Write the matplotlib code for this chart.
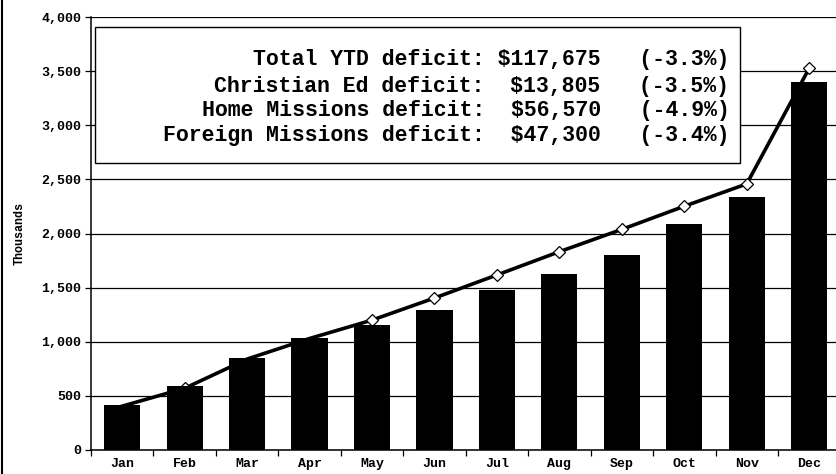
import matplotlib
matplotlib.use("Agg")
import matplotlib.pyplot as plt
from matplotlib.patches import Rectangle
from matplotlib.lines import Line2D
from matplotlib.ticker import FuncFormatter

months = ['Jan', 'Feb', 'Mar', 'Apr', 'May', 'Jun', 'Jul', 'Aug', 'Sep', 'Oct', 'Nov', 'Dec']
actual = [417, 589, 846, 1037, 1159, 1297, 1479, 1623, 1804, 2084, 2335, 3403]   # bars
budget = [405, 570, 840, 1030, 1200, 1404, 1617, 1832, 2038, 2252, 2458, 3526]   # line
summary_lines = [
    'Total YTD deficit: $117,675   (-3.3%)',
    'Christian Ed deficit:  $13,805   (-3.5%)',
    'Home Missions deficit:  $56,570   (-4.9%)',
    'Foreign Missions deficit:  $47,300   (-3.4%)',
]

plt.rcParams['font.family'] = ['Liberation Mono', 'DejaVu Sans Mono']
plt.rcParams['font.weight'] = 'bold'

fig = plt.figure(figsize=(8.36, 4.74), dpi=100)
ax = fig.add_axes([91/836, 1-450/474, 749.4/836, 433/474])

x = range(len(months))
# markers at Jan/Mar/Apr sit under the bars in the original
ax.plot(x, budget, color='black', lw=2.6, marker='D', ms=6.5, mfc='white',
        mec='black', mew=0.9, markevery=[1, 4, 5, 6, 7, 8, 9, 10, 11], zorder=2)
ax.bar(x, actual, width=0.58, color='black', zorder=3)

ax.set_xlim(-0.5, 11.5)
ax.set_ylim(0, 4000)
ax.set_yticks(range(0, 4001, 500))
ax.yaxis.set_major_formatter(FuncFormatter(lambda v, p: '{:,.0f}'.format(v)))
ax.grid(axis='y', color='black', lw=0.9, zorder=0)
ax.set_axisbelow(True)

ax.set_xticks(list(x))
ax.set_xticklabels(months)
ax.set_xticks([i - 0.5 for i in range(13)], minor=True)
ax.tick_params(axis='x', which='major', length=0, pad=6, labelsize=9.5)
ax.tick_params(axis='x', which='minor', length=4, width=0.9, direction='out')
ax.tick_params(axis='y', length=4, width=0.9, pad=3, labelsize=9.5)
ax.set_ylabel('Thousands', fontsize=8.5, fontweight='bold', labelpad=11)

for s in ['top', 'right']:
    ax.spines[s].set_visible(False)
ax.spines['left'].set_linewidth(1.1)
ax.spines['bottom'].set_linewidth(1.1)

# summary box
ax.add_patch(Rectangle((0.0053, 0.6636), 0.8607, 0.3134, transform=ax.transAxes,
                       facecolor='white', edgecolor='black', lw=1.0, zorder=5))
ys = [0.901, 0.839, 0.783, 0.727]
for t, yy in zip(summary_lines, ys):
    ax.text(0.852, yy, t, transform=ax.transAxes, ha='right', va='center',
            fontsize=15.5, fontweight='bold', zorder=6)

fig.add_artist(Line2D([2/836, 2/836], [0, 1], transform=fig.transFigure,
                      color='black', lw=1.5))

fig.savefig('out.png', dpi=100)
